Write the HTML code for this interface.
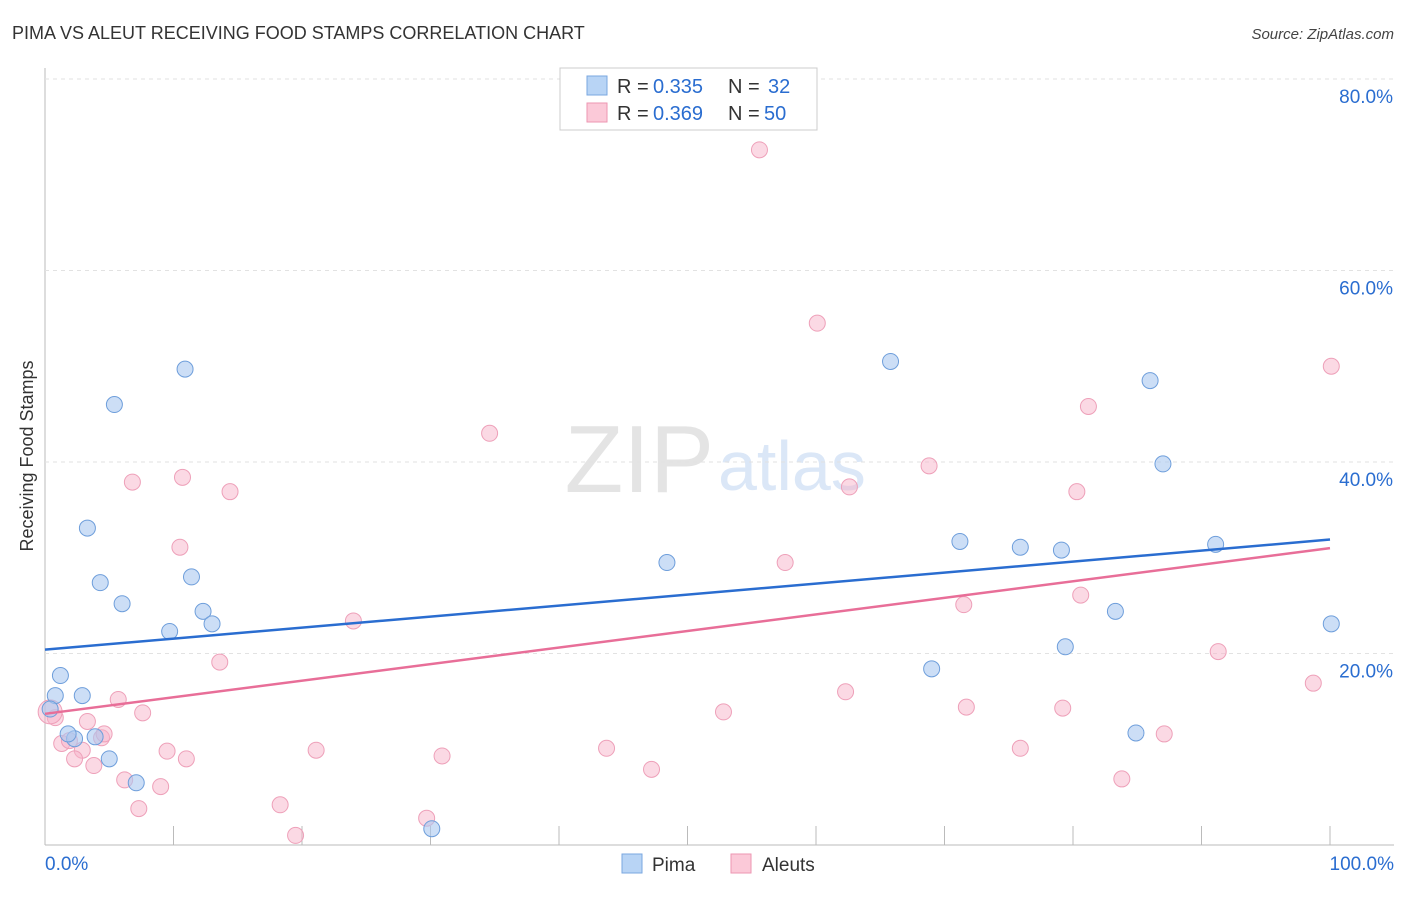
<!DOCTYPE html>
<html><head><meta charset="utf-8"><style>
body{margin:0;background:#fff;font-family:"Liberation Sans",sans-serif}
svg text{font-family:"Liberation Sans",sans-serif}
</style></head><body>
<svg id="chart" width="1406" height="892">
<text x="12" y="39" font-size="18" fill="#333">PIMA VS ALEUT RECEIVING FOOD STAMPS CORRELATION CHART</text>
<text x="1394" y="39" font-size="15" fill="#444" font-style="italic" text-anchor="end">Source: ZipAtlas.com</text>
<text x="0" y="0" transform="translate(33,456) rotate(-90)" font-size="18" fill="#333" text-anchor="middle">Receiving Food Stamps</text>
<text x="714" y="492" font-size="96" fill="#e4e4e4" font-family="Liberation Serif" text-anchor="end">ZIP</text>
<text x="718" y="490" font-size="70" fill="#dbe7f7">atlas</text>
<g id="grid"></g><g id="marks"></g>
<g>
<rect x="560" y="68" width="257" height="62" fill="#fff" stroke="#ccc"/>
<rect x="587" y="76" width="20" height="19" fill="#b8d4f5" stroke="#7aa7e0"/>
<rect x="587" y="103" width="20" height="19" fill="#fbc9d8" stroke="#ec96b2"/>
<text x="617" y="93" font-size="20" fill="#333">R =</text>
<text x="653" y="93" font-size="20" fill="#2a6dd0">0.335</text>
<text x="728" y="93" font-size="20" fill="#333">N =</text>
<text x="768" y="93" font-size="20" fill="#2a6dd0">32</text>
<text x="617" y="120" font-size="20" fill="#333">R =</text>
<text x="653" y="120" font-size="20" fill="#2a6dd0">0.369</text>
<text x="728" y="120" font-size="20" fill="#333">N =</text>
<text x="764" y="120" font-size="20" fill="#2a6dd0">50</text>
</g>
<g>
<rect x="622" y="854" width="20" height="19" fill="#b8d4f5" stroke="#7aa7e0"/>
<text x="652" y="871" font-size="19" fill="#333">Pima</text>
<rect x="731" y="854" width="20" height="19" fill="#fbc9d8" stroke="#ec96b2"/>
<text x="762" y="871" font-size="19" fill="#333">Aleuts</text>
</g>
</svg>
<script>
const yTicks=[20,40,60,80];
const yTickLabels=["20.0%","40.0%","60.0%","80.0%"];
const xTickLabels=["0.0%","100.0%"];
const pimaX=[0.8,1.2,2.9,2.3,1.8,3.3,4.3,5.4,6.0,5.0,7.1,10.9,11.4,12.3,13.0,9.7,30.1,48.4,65.8,71.2,69.0,75.9,79.1,79.4,86.0,87.0,83.3,84.9,91.1,100.1,3.9,0.4];
const pimaY=[15.6,17.7,15.6,11.1,11.6,33.1,27.4,46.0,25.2,9.0,6.5,49.7,28.0,24.4,23.1,22.3,1.7,29.5,50.5,31.7,18.4,31.1,30.8,20.7,48.5,39.8,24.4,11.7,31.4,23.1,11.3,14.2];
const aleutX=[55.6,60.1,100.1,81.2,68.8,80.3,62.6,34.6,10.7,6.8,14.4,10.5,57.6,71.5,80.6,24.0,13.6,91.3,98.7,62.3,52.8,71.7,79.2,5.7,7.6,3.3,0.8,4.4,4.6,1.3,1.9,2.9,9.5,11.0,21.1,30.9,43.7,75.9,87.1,2.3,3.8,6.2,9.0,7.3,18.3,19.5,29.7,47.2,83.8,0.4];
const aleutY=[72.6,54.5,50.0,45.8,39.6,36.9,37.4,43.0,38.4,37.9,36.9,31.1,29.5,25.1,26.1,23.4,19.1,20.2,16.9,16.0,13.9,14.4,14.3,15.2,13.8,12.9,13.3,11.2,11.6,10.6,10.9,9.9,9.8,9.0,9.9,9.3,10.1,10.1,11.6,9.0,8.3,6.8,6.1,3.8,4.2,1.0,2.8,7.9,6.9,13.9];
const pimaTrend=[20.4,31.9];
const aleutTrend=[13.7,31.0];
const NS="http://www.w3.org/2000/svg";
const xs=v=>45+v*12.85, ys=v=>845-v*9.575;
function mk(t,a,p){const e=document.createElementNS(NS,t);for(const k in a)e.setAttribute(k,a[k]);p.appendChild(e);return e;}
const g=document.getElementById('grid'),m=document.getElementById('marks');
let ax=mk('line',{x1:45,y1:68,x2:45,y2:845,stroke:'#bbb'},g);


let bx=mk('line',{x1:45,y1:845,x2:1394,y2:845,stroke:'#bbb'},g);


yTicks.forEach((t,i)=>{
 let l=mk('line',{x1:45,x2:1394,y1:ys(t),y2:ys(t),stroke:'#e2e2e2','stroke-dasharray':'4,4'},g);
 
 
 let tx=mk('text',{x:1393,y:ys(t)+24,'font-size':19,fill:'#2a6dd0','text-anchor':'end'},g);tx.textContent=yTickLabels[i];
 
 
});
for(let i=1;i<=10;i++){let l=mk('line',{x1:45+i*128.5,x2:45+i*128.5,y1:826,y2:845,stroke:'#bbb'},g);
 
 }
[[0,'start',45],[1,'end',1394]].forEach(([i,a,x])=>{let t=mk('text',{x:x,y:870,'font-size':19,fill:'#2a6dd0','text-anchor':a},g);t.textContent=xTickLabels[i];
 
 });
aleutX.forEach((v,i)=>{let c=mk('circle',{cx:xs(v),cy:ys(aleutY[i]),r:i==aleutX.length-1?12:8,fill:'rgba(248,180,202,0.5)',stroke:'#eea0b9','stroke-width':1},m);
 
 });
pimaX.forEach((v,i)=>{let c=mk('circle',{cx:xs(v),cy:ys(pimaY[i]),r:8,fill:'rgba(170,200,240,0.6)',stroke:'#6e9edb','stroke-width':1},m);
 
 });
let t1=mk('line',{x1:xs(0),y1:ys(pimaTrend[0]),x2:xs(100),y2:ys(pimaTrend[1]),stroke:'#2a6dd0','stroke-width':2.5},m);


let t2=mk('line',{x1:xs(0),y1:ys(aleutTrend[0]),x2:xs(100),y2:ys(aleutTrend[1]),stroke:'#e86e98','stroke-width':2.5},m);


</script>
</body></html>
